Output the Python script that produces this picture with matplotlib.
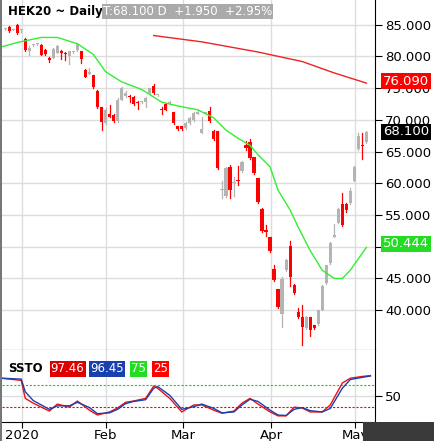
import matplotlib
matplotlib.use('Agg')
import matplotlib.pyplot as plt
from matplotlib.patches import Rectangle

# candles in order: open, high, low, close
opens = [84.3, 84.6, 84.2, 85.0, 84.1, 82.8, 80.8, 81.8, 82.0, 81.8, 81.0, 79.8, 79.8, 80.6,
         80.9, 80.6, 80.0, 80.7, 81.0, 80.8, 77.9, 77.3, 77.0, 74.6, 72.0, 69.5, 71.0, 70.8,
         69.8, 73.2, 73.7, 73.8, 73.6, 72.7, 72.8, 72.8, 74.2, 75.4, 73.9, 71.7, 72.5, 72.6,
         71.2, 69.0, 69.0, 68.7, 69.5, 70.0, 71.0, 68.0, 71.0, 71.4, 68.3, 68.2, 58.9, 58.0,
         62.6, 60.0, 60.5, 61.9, 66.0, 66.5, 64.1, 60.8, 56.0, 52.6, 51.5, 46.5, 43.3, 39.4,
         46.3, 50.1, 44.0, 39.7, 38.9, 37.2, 38.9, 37.6, 37.8, 40.1, 44.3, 47.4, 51.6, 53.8,
         56.7, 56.7, 56.9, 60.4, 65.4, 66.1, 66.5]
closes = [84.3, 84.0, 84.3, 83.7, 84.1, 81.0, 81.4, 81.8, 82.0, 80.3, 80.4, 79.5, 81.2, 81.6,
          80.6, 80.4, 80.8, 80.7, 82.0, 79.6, 76.8, 77.6, 75.2, 72.0, 69.7, 71.6, 70.5, 69.8,
          73.2, 75.0, 74.3, 73.6, 72.5, 72.6, 72.8, 73.5, 75.0, 74.2, 73.9, 71.5, 71.6, 72.8,
          69.5, 68.5, 68.5, 69.5, 70.3, 71.1, 71.3, 68.5, 71.1, 69.8, 67.0, 62.4, 59.1, 62.4,
          58.9, 60.1, 60.3, 63.4, 65.6, 64.0, 61.6, 57.0, 52.5, 52.4, 49.3, 44.7, 40.5, 44.9,
          47.9, 45.2, 42.7, 38.9, 37.3, 38.9, 36.9, 37.2, 40.0, 43.8, 47.1, 50.6, 51.8, 56.0,
          53.4, 55.8, 58.8, 62.6, 67.5, 65.9, 68.1]
highs = [84.5, 84.8, 84.4, 85.1, 84.3, 82.9, 81.6, 82.0, 82.2, 81.9, 81.1, 79.9, 81.3, 81.8,
         81.0, 80.7, 80.9, 80.9, 82.2, 80.9, 78.0, 78.2, 77.1, 74.7, 72.1, 71.8, 72.4, 70.9,
         73.4, 75.2, 74.5, 74.0, 73.7, 72.9, 73.0, 73.6, 75.1, 75.6, 74.1, 72.0, 72.6, 73.0,
         71.3, 69.1, 69.1, 69.6, 70.4, 71.2, 71.5, 70.5, 71.3, 72.0, 68.4, 68.3, 60.3, 62.5,
         62.9, 61.0, 62.8, 63.5, 66.6, 67.0, 64.2, 60.9, 56.1, 53.5, 51.6, 47.1, 43.4, 45.2,
         48.0, 50.9, 44.1, 40.4, 40.8, 39.1, 39.0, 37.7, 40.1, 43.9, 47.2, 50.7, 53.6, 56.1,
         58.5, 56.9, 59.2, 62.7, 67.9, 67.9, 68.2]
lows = [84.1, 83.8, 84.1, 83.6, 83.9, 80.9, 80.3, 81.6, 81.8, 80.2, 80.3, 79.1, 79.7, 80.5,
        79.6, 79.5, 78.8, 80.5, 80.9, 79.0, 76.7, 77.2, 75.1, 71.9, 68.4, 69.4, 70.4, 69.7,
        69.7, 73.1, 73.6, 72.8, 72.4, 71.7, 72.6, 72.0, 74.1, 74.1, 73.7, 70.9, 71.5, 72.5,
        69.4, 68.4, 68.4, 68.6, 69.4, 69.9, 70.9, 67.9, 70.9, 69.7, 66.9, 62.3, 57.7, 57.9,
        57.7, 58.0, 59.8, 61.8, 65.2, 63.9, 61.5, 56.9, 52.4, 51.7, 49.2, 44.6, 40.4, 37.3,
        46.2, 43.8, 42.6, 38.8, 34.5, 37.1, 36.0, 37.1, 37.7, 40.0, 44.2, 47.3, 51.5, 53.7,
        53.3, 55.5, 56.8, 60.3, 65.3, 63.9, 66.4]

# moving averages read at sampled candle positions
ma_fast_x = [-1, 3, 9, 13, 18, 22, 25, 29, 34, 39, 43, 48, 52, 55, 58, 61, 63, 66, 68, 71, 73, 76,
             79, 82, 84, 86, 90]
ma_fast = [81.5, 82.2, 83.0, 83.0, 82.0, 80.3, 77.6, 76.0, 74.8, 72.8, 72.2, 71.6, 70.3, 68.4,
           67.1, 66.0, 64.5, 62.6, 58.9, 55.8, 53.1, 49.4, 46.3, 45.0, 45.0, 46.3, 49.9]
ma_slow_x = [37, 49, 63, 74, 82, 90]
ma_slow = [83.3, 82.3, 80.7, 79.2, 77.4, 75.8]

# slow stochastic
sto_x = [-1, 4, 5, 7, 11, 13, 16, 18, 21, 23, 26, 28, 30, 32, 35, 37, 38, 41, 44, 47, 49, 52, 54,
         57, 59, 61, 63, 66, 68, 70, 72, 74, 76, 79, 81, 84, 86, 89, 91]
sto_k = [91, 86, 45, 34, 16, 32, 25, 39, 18, 7, 14, 23, 36, 39, 45, 73, 68, 45, 14, 30, 30, 18,
         11, 16, 34, 45, 32, 14, 5, 5, 25, 23, 14, 14, 30, 80, 91, 95, 97]
sto_d = [91, 89, 60, 40, 20, 28, 28, 36, 24, 10, 12, 20, 33, 38, 42, 68, 72, 52, 20, 26, 32, 22,
         12, 14, 30, 43, 38, 18, 7, 6, 20, 24, 17, 14, 22, 68, 88, 93, 96]

month_pos = [4.25, 25, 44.25, 66.25, 87.25]
month_labels = ['2020', 'Feb', 'Mar', 'Apr', 'May']
price_ticks = [40, 45, 50, 55, 60, 65, 70, 75, 80, 85]

fig = plt.figure(figsize=(4.34, 4.41), dpi=100)
ax = fig.add_axes([0.005, 0.206, 0.86, 0.794])
ax2 = fig.add_axes([0.005, 0.043, 0.86, 0.163], sharex=ax)

xl = (-0.75, 92.25)
for a in (ax, ax2):
    a.set_xlim(*xl)
    for m in month_pos:
        a.axvline(m, color='#dddddd', lw=1, zorder=0)
    for s in ('top', 'left'):
        a.spines[s].set_visible(False)
    a.spines['right'].set_color('black')
    a.yaxis.tick_right()
    a.tick_params(axis='y', direction='out', length=5, labelsize=9.5, pad=2)

for y in price_ticks:
    ax.axhline(y, color='#dddddd', lw=1, zorder=0)
ax.set_ylim(33.7, 88.9)
ax.set_yticks(price_ticks)
ax.set_yticklabels([f'{v:.3f}' for v in price_ticks])
ax.tick_params(axis='x', length=0, labelbottom=False)
ax.spines['bottom'].set_color('black')

for i, (o, h, l, c) in enumerate(zip(opens, highs, lows, closes)):
    col = '#b4b4b4' if c >= o else '#ff0000'
    ax.plot([i, i], [l, h], color=col, lw=0.9, zorder=2)
    bot, ht = min(o, c), max(abs(c - o), 0.2)
    ax.add_patch(Rectangle((i - 0.4, bot), 0.8, ht, color=col, zorder=3, lw=0))

ax.plot(ma_fast_x, ma_fast, color='#33ee33', lw=1.0, zorder=4)
ax.plot(ma_slow_x, ma_slow, color='#ee2222', lw=1.0, zorder=4)

ax.text(0.015, 0.985, 'HEK20 ~ Daily', transform=ax.transAxes, fontsize=8.5, fontweight='bold',
        va='top', ha='left')
ax.text(0.27, 0.985, 'T:68.100 D  +1.950  +2.95%', transform=ax.transAxes, fontsize=8.5,
        color='white', va='top', ha='left',
        bbox=dict(boxstyle='square,pad=0.1', facecolor='#aaaaaa', edgecolor='none'))

tr = ax.get_yaxis_transform()
for val, txt, fc in [(76.09, '76.090', '#ff0000'), (68.1, '68.100', 'black'), (50.444, '50.444', '#22dd22')]:
    ax.text(1.02, val, txt, transform=tr, fontsize=9.5, color='white', va='center', ha='left',
            bbox=dict(boxstyle='square,pad=0.12', facecolor=fc, edgecolor='none'), clip_on=False)

# stochastic panel
ax2.set_ylim(-9, 155)
ax2.axhline(50, color='#dddddd', lw=1, zorder=0)
ax2.axhline(75, color='#00dd00', lw=0.8, ls=(0, (2, 1.5)))
ax2.axhline(25, color='#ff0000', lw=0.8, ls=(0, (2, 1.5)))
ax2.plot(sto_x, sto_k, color='#ee1111', lw=1.0)
ax2.plot(sto_x, sto_d, color='#1a40b0', lw=1.0)
ax2.set_yticks([50])
ax2.set_xticks(month_pos)
ax2.set_xticklabels(month_labels)
ax2.tick_params(axis='x', length=4, labelsize=9.5, pad=1)
ax2.spines['bottom'].set_color('black')

ax2.text(0.015, 0.74, 'SSTO', transform=ax2.transAxes, fontsize=8.5, fontweight='bold', va='center')
for xp, txt, fc in [(0.13, '97.46', '#dd0000'), (0.235, '96.45', '#1a40b0'), (0.345, '75', '#22dd22'),
                    (0.405, '25', '#ff0000')]:
    ax2.text(xp, 0.74, txt, transform=ax2.transAxes, fontsize=8.5, color='white', va='center',
             bbox=dict(boxstyle='square,pad=0.1', facecolor=fc, edgecolor='none'))

fig.patches.append(Rectangle((0.836, 0.0), 0.164, 0.043, transform=fig.transFigure,
                             facecolor='#3a3a3a', edgecolor='none'))
fig.patches.append(Rectangle((0.0, 0.0), 0.004, 1.0, transform=fig.transFigure,
                             facecolor='#777777', edgecolor='none'))

fig.savefig('out.png', dpi=100)
